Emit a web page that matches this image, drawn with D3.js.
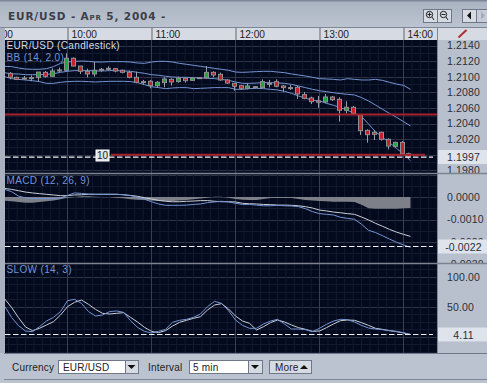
<!DOCTYPE html>
<html>
<head>
<meta charset="utf-8">
<title>EUR/USD</title>
<script src="https://cdn.jsdelivr.net/npm/d3@7"></script>
<style>
html, body { margin: 0; padding: 0; background: #b4bcc9; overflow: hidden; }
svg { display: block; }
text { font-family: "Liberation Sans", Arial, sans-serif; }
</style>
</head>
<body>
<div id="chart"></div>
<script>
// values. candles start 9:20, lines start 9:15, 5 min apart
var candleOpen = [1.21043,1.20992,1.20983,1.20988,1.20988,1.21056,1.21005,1.21086,1.21082,1.21236,
  1.21137,1.21069,1.21035,1.21095,1.21107,1.21103,1.21082,1.21056,1.20992,1.20937,
  1.20941,1.20885,1.20924,1.20966,1.20937,1.20979,1.20953,1.20988,1.20988,1.21056,
  1.21030,1.20958,1.20915,1.20885,1.20851,1.20872,1.20860,1.20915,1.20937,1.20881,
  1.20860,1.20864,1.20770,1.20727,1.20689,1.20676,1.20740,1.20710,1.20569,1.20608,
  1.20509,1.20312,1.20287,1.20287,1.20197,1.20107,1.20158,1.20013];
var candleClose = [1.20992,1.20966,1.20971,1.20975,1.21060,1.21005,1.21073,1.21078,1.21236,1.21137,
  1.21069,1.21035,1.21082,1.21086,1.21099,1.21073,1.21056,1.20992,1.20928,1.20928,
  1.20885,1.20928,1.20971,1.20932,1.20983,1.20949,1.20983,1.20979,1.21056,1.21022,
  1.20958,1.20919,1.20877,1.20851,1.20881,1.20860,1.20937,1.20915,1.20877,1.20860,
  1.20860,1.20779,1.20723,1.20680,1.20672,1.20740,1.20706,1.20569,1.20608,1.20530,
  1.20308,1.20257,1.20261,1.20197,1.20111,1.20158,1.20013,1.19970];
var candleHigh = [1.21060,1.21000,1.21009,1.21017,1.21060,1.21073,1.21107,1.21116,1.21300,1.21248,
  1.21137,1.21103,1.21189,1.21112,1.21133,1.21112,1.21091,1.21078,1.21065,1.20958,
  1.20958,1.20945,1.20992,1.20979,1.21001,1.20988,1.20992,1.20996,1.21137,1.21069,
  1.21052,1.20966,1.20915,1.20894,1.20915,1.20881,1.20966,1.20958,1.20966,1.20894,
  1.20894,1.20881,1.20804,1.20744,1.20753,1.20779,1.20753,1.20736,1.20685,1.20625,
  1.20509,1.20325,1.20317,1.20295,1.20210,1.20167,1.20175,1.20026];
var candleLow = [1.20966,1.20958,1.20958,1.20941,1.20937,1.20988,1.21001,1.21060,1.21078,1.21129,
  1.21035,1.20992,1.21001,1.21065,1.21078,1.21056,1.21043,1.20979,1.20915,1.20898,
  1.20851,1.20855,1.20864,1.20885,1.20924,1.20924,1.20945,1.20971,1.20975,1.20992,
  1.20949,1.20907,1.20821,1.20830,1.20838,1.20851,1.20851,1.20864,1.20864,1.20808,
  1.20830,1.20715,1.20711,1.20650,1.20603,1.20659,1.20689,1.20424,1.20530,1.20509,
  1.20253,1.20154,1.20188,1.20180,1.20068,1.20094,1.19996,1.19944];

var bbUpper = [1.21133,1.21129,1.21112,1.21099,1.21095,1.21095,1.21103,1.21129,1.21171,1.21188,
  1.21197,1.21201,1.21197,1.21188,1.21188,1.21193,1.21193,1.21193,1.21188,1.21176,
  1.21171,1.21188,1.21197,1.21197,1.21188,1.21171,1.21159,1.21146,1.21133,1.21120,
  1.21107,1.21095,1.21082,1.21060,1.21056,1.21060,1.21065,1.21069,1.21069,1.21060,
  1.21052,1.21035,1.21022,1.21009,1.20992,1.20975,1.20971,1.20966,1.20958,1.20975,
  1.20966,1.20958,1.20958,1.20966,1.20953,1.20928,1.20906,1.20889,1.20838];
var bbMid = [1.21052,1.21035,1.21035,1.21026,1.21026,1.21026,1.21030,1.21039,1.21056,1.21069,
  1.21078,1.21078,1.21078,1.21073,1.21073,1.21078,1.21078,1.21073,1.21069,1.21056,
  1.21043,1.21026,1.21018,1.21005,1.20996,1.20992,1.20992,1.20988,1.20983,1.20979,
  1.20975,1.20966,1.20953,1.20932,1.20915,1.20915,1.20919,1.20924,1.20924,1.20919,
  1.20915,1.20902,1.20881,1.20860,1.20838,1.20821,1.20808,1.20795,1.20783,1.20774,
  1.20766,1.20732,1.20689,1.20637,1.20582,1.20530,1.20479,1.20424,1.20368];
var bbLower = [1.21001,1.20975,1.20966,1.20958,1.20949,1.20937,1.20915,1.20915,1.20928,1.20937,
  1.20941,1.20941,1.20937,1.20932,1.20937,1.20941,1.20941,1.20941,1.20937,1.20924,
  1.20898,1.20872,1.20860,1.20847,1.20855,1.20860,1.20860,1.20847,1.20851,1.20855,
  1.20860,1.20860,1.20860,1.20838,1.20838,1.20847,1.20851,1.20847,1.20838,1.20830,
  1.20812,1.20787,1.20753,1.20723,1.20701,1.20689,1.20659,1.20633,1.20603,1.20569,
  1.20530,1.20488,1.20394,1.20296,1.20223,1.20154,1.20081,1.20009,1.19923];

var macdLine = [0.00034,0.00024,0.00004,-0.00004,-0.00006,-0.00007,-0.00007,-0.00007,-0.00004,0.00007,
  0.00018,0.00016,0.00013,0.00012,0.00012,0.00012,0.00012,0.00010,0.00006,-0.00001,
  -0.00010,-0.00021,-0.00031,-0.00037,-0.00037,-0.00037,-0.00036,-0.00033,-0.00031,-0.00025,
  -0.00022,-0.00019,-0.00022,-0.00028,-0.00033,-0.00033,-0.00036,-0.00039,-0.00039,-0.00037,
  -0.00039,-0.00040,-0.00043,-0.00052,-0.00065,-0.00074,-0.00077,-0.00080,-0.00090,-0.00095,
  -0.00099,-0.00121,-0.00148,-0.00158,-0.00172,-0.00187,-0.00201,-0.00213,-0.00224];
var macdSignal = [0.00038,0.00034,0.00028,0.00022,0.00018,0.00015,0.00012,0.00009,0.00006,0.00006,
  0.00009,0.00010,0.00012,0.00012,0.00012,0.00012,0.00012,0.00010,0.00007,0.00003,
  -0.00003,-0.00009,-0.00015,-0.00019,-0.00021,-0.00021,-0.00019,-0.00018,-0.00016,-0.00016,
  -0.00019,-0.00021,-0.00021,-0.00022,-0.00028,-0.00030,-0.00031,-0.00033,-0.00034,-0.00036,
  -0.00036,-0.00037,-0.00039,-0.00043,-0.00049,-0.00058,-0.00062,-0.00067,-0.00070,-0.00074,
  -0.00077,-0.00089,-0.00102,-0.00117,-0.00130,-0.00144,-0.00156,-0.00166,-0.00175];
var macdHist = [-0.00016,-0.00019,-0.00022,-0.00025,-0.00025,-0.00022,-0.00019,-0.00016,-0.00010,-0.00003,
  0,0.00003,0.00003,0.00001,0,0,-0.00003,-0.00006,-0.00010,-0.00012,
  -0.00013,-0.00016,-0.00018,-0.00018,-0.00018,-0.00016,-0.00013,-0.00010,-0.00007,-0.00003,
  0.00001,0.00001,-0.00003,-0.00009,-0.00012,-0.00013,-0.00013,-0.00009,-0.00004,-0.00004,
  -0.00004,-0.00004,-0.00009,-0.00013,-0.00016,-0.00018,-0.00019,-0.00021,-0.00021,-0.00021,
  -0.00022,-0.00034,-0.00050,-0.00052,-0.00052,-0.00052,-0.00052,-0.00050,-0.00049];

var slowK = [51.5,32.6,18.8,9.9,8.8,17.1,26.5,32.6,42.1,60.3,
  62.6,55.9,42.1,34.8,36.5,42.1,43.2,41.0,27.1,16.0,
  9.4,6.6,9.4,12.7,24.3,27.7,29.3,32.6,38.2,50.4,
  59.2,55.9,43.7,28.2,19.3,14.4,14.4,21.6,26.5,29.3,
  21.6,13.2,13.2,12.1,8.8,14.4,21.0,26.5,29.3,28.8,
  24.9,19.3,14.9,13.2,12.1,10.5,9.4,7.2,4.11];
var slowD = [63.7,49.3,32.1,16.6,10.5,14.4,19.9,25.4,36.5,50.4,
  57.6,61.4,54.2,45.9,39.3,38.2,39.3,40.4,32.6,24.9,
  16.0,9.4,7.2,10.5,18.2,24.3,27.7,31.0,33.7,44.8,
  53.1,55.4,46.5,34.8,26.5,22.7,11.6,17.1,23.8,28.2,
  24.9,19.9,15.5,12.7,9.4,9.9,15.5,21.6,27.1,28.2,
  27.7,23.8,19.3,14.4,12.7,10.5,8.8,6.6,4.11];

var priceTicks = [1.2140,1.2120,1.2100,1.2080,1.2060,1.2040,1.2020,1.1980];
var macdTicks = [0,-0.0010,-0.0020,-0.0030];
var slowTicks = [100,50];
var lastPrice = 1.1997, lastMacd = -0.0022, lastSlow = 4.11;
var redLevels = [1.20515, 1.2000];

var width = 487, height = 383;
var plotL = 5, plotR = 437;
var blue = "#7494d4", white = "#c9ced6", gridMinor = "#111a2e", gridMajor = "#2c3446";

var start = new Date(2004, 3, 5, 9, 20);
function tAt(i){ return d3.timeMinute.offset(start, i * 5); }
var lineT = function(d, i){ return tAt(i - 1); };
function hour(h){ return new Date(2004, 3, 5, h, 0); }

var x = d3.scaleTime().domain([hour(10), hour(14)]).range([67.5, 403.5]);
var yPrice = d3.scaleLinear().domain([1.2140, 1.1980]).range([45.5, 170.3]);
var yMacd = d3.scaleLinear().domain([0, -0.0022]).range([197, 246.5]);
var ySlow = d3.scaleLinear().domain([100, 4.11]).range([276.8, 334.5]);

var panels = [
  {id: "p1", top: 40, bottom: 173, y: yPrice, minor: 0.001, major: 2},
  {id: "p2", top: 173, bottom: 263, y: yMacd, minor: 0.0005, major: 2},
  {id: "p3", top: 263, bottom: 353, y: ySlow, minor: 12.5, major: 4}
];

var svg = d3.select("#chart").append("svg").attr("width", width).attr("height", height);
var defs = svg.append("defs");
var grad = defs.append("linearGradient").attr("id", "bgGrad").attr("x1", 0).attr("x2", 0).attr("y1", 0).attr("y2", 1);
grad.append("stop").attr("offset", "0%").attr("stop-color", "#a9b2c0");
grad.append("stop").attr("offset", "100%").attr("stop-color", "#bcc4d0");

svg.append("rect").attr("width", width).attr("height", height).attr("fill", "#b9c0cd");
svg.append("rect").attr("width", width).attr("height", 28).attr("fill", "url(#bgGrad)");
svg.append("rect").attr("width", width).attr("height", 1.5).attr("fill", "#7d8696");

// title
svg.append("text").attr("x", 8).attr("y", 20)
  .style("font-family", "'DejaVu Sans'").style("font-size", "10.5px").style("font-weight", "bold")
  .style("font-variant", "small-caps").style("letter-spacing", "0.85px").attr("fill", "#3a3f4a")
  .text("EUR/USD - Apr 5, 2004 -");

// time strip
svg.append("rect").attr("x", plotL).attr("y", 28).attr("width", width - plotL).attr("height", 12).attr("fill", "#d6dae3");
svg.append("rect").attr("x", 0).attr("y", 27).attr("width", width).attr("height", 1).attr("fill", "#7d8696");

panels.forEach(function(p){
  defs.append("clipPath").attr("id", p.id).append("rect")
    .attr("x", plotL).attr("y", p.top).attr("width", plotR - plotL).attr("height", p.bottom - p.top);
  defs.append("clipPath").attr("id", p.id + "a").append("rect")
    .attr("x", plotR).attr("y", p.top).attr("width", width - plotR).attr("height", p.bottom - p.top);
});
defs.append("clipPath").attr("id", "stripClip").append("rect")
  .attr("x", plotL).attr("y", 28).attr("width", plotR - plotL).attr("height", 12);

var timeAxis = d3.axisTop(x).tickValues([hour(9), hour(10), hour(11), hour(12), hour(13), hour(14)])
  .tickFormat(d3.timeFormat("%H:%M")).tickSize(0);
var stripG = svg.append("g").attr("clip-path", "url(#stripClip)").append("g")
  .attr("transform", "translate(0,40)").call(timeAxis);
stripG.select(".domain").remove();
stripG.selectAll("text").attr("x", 3.5).attr("y", -2.5).attr("text-anchor", "start").attr("fill", "#222")
  .style("font-size", "10.2px");
stripG.selectAll(".tick").append("line").attr("y1", -12).attr("y2", 0).attr("stroke", "#666");
svg.append("line").attr("x1", plotR + 0.5).attr("x2", plotR + 0.5).attr("y1", 28).attr("y2", 353).attr("stroke", "#7d8696");

// pencil icon
svg.append("line").attr("x1", 458.5).attr("y1", 37.5).attr("x2", 466.5).attr("y2", 30)
  .attr("stroke", "#b03030").attr("stroke-width", 2);

// plot background and grid
panels.forEach(function(p){
  svg.append("rect").attr("x", plotL).attr("y", p.top).attr("width", plotR - plotL)
    .attr("height", p.bottom - p.top).attr("fill", "#040a1e");
  var g = svg.append("g").attr("clip-path", "url(#" + p.id + ")");
  var ks = d3.range(Math.ceil(p.y.invert(p.bottom) / p.minor), Math.floor(p.y.invert(p.top) / p.minor) + 1);
  g.selectAll(".h").data(ks).enter().append("line")
    .attr("x1", plotL).attr("x2", plotR)
    .attr("y1", function(k){ return Math.round(p.y(k * p.minor)) + 0.5; })
    .attr("y2", function(k){ return Math.round(p.y(k * p.minor)) + 0.5; })
    .attr("stroke", function(k){ return k % p.major == 0 ? gridMajor : gridMinor; });
  g.selectAll(".v").data(d3.timeMinute.range(hour(9), new Date(2004, 3, 5, 14, 30), 6))
    .enter().append("line")
    .attr("x1", function(d){ return x(d); }).attr("x2", function(d){ return x(d); })
    .attr("y1", p.top).attr("y2", p.bottom)
    .attr("stroke", function(d){ return d.getMinutes() == 0 ? "#363f52" : gridMinor; });
});

// price panel
var priceG = svg.append("g").attr("clip-path", "url(#p1)");
var lineP = d3.line().x(function(d, i){ return x(lineT(d, i)); }).y(function(d){ return yPrice(d); });
[bbUpper, bbMid, bbLower].forEach(function(s){
  priceG.append("path").datum(s).attr("d", lineP).attr("fill", "none").attr("stroke", blue);
});
var candles = candleOpen.map(function(o, i){
  return {t: tAt(i), o: o, c: candleClose[i], h: candleHigh[i], l: candleLow[i]};
});
function candleX(d){ return Math.round(x(d.t) - 2) + 0.5; }
var cg = priceG.selectAll(".c").data(candles).enter().append("g");
cg.append("line").attr("x1", candleX).attr("x2", candleX)
  .attr("y1", function(d){ return yPrice(d.h); }).attr("y2", function(d){ return yPrice(d.l); })
  .attr("stroke", "#9a9fa8");
cg.append("rect")
  .attr("x", function(d){ return candleX(d) - 2; }).attr("width", 4)
  .attr("y", function(d){ return yPrice(Math.max(d.o, d.c)); })
  .attr("height", function(d){ return Math.max(1, Math.abs(yPrice(d.o) - yPrice(d.c))); })
  .attr("fill", function(d){ return d.c > d.o ? "#1ea83a" : (d.c < d.o ? "#c4222a" : "#9a9fa8"); })
  .attr("stroke", "#8f8f96").attr("stroke-width", 1);
redLevels.forEach(function(v, i){
  priceG.append("line").attr("x1", i == 0 ? plotL : 111).attr("x2", i == 0 ? plotR : 425)
    .attr("y1", yPrice(v)).attr("y2", yPrice(v)).attr("stroke", "#a8202c").attr("stroke-width", 2);
});

// macd panel
var macdG = svg.append("g").attr("clip-path", "url(#p2)");
var histArea = d3.area().x(function(d, i){ return x(lineT(d, i)); }).y0(yMacd(0)).y1(function(d){ return yMacd(d); });
macdG.append("path").datum(macdHist).attr("d", histArea).attr("fill", "#7d8088");
var lineM = d3.line().x(function(d, i){ return x(lineT(d, i)); }).y(function(d){ return yMacd(d); });
macdG.append("path").datum(macdSignal).attr("d", lineM).attr("fill", "none").attr("stroke", white);
macdG.append("path").datum(macdLine).attr("d", lineM).attr("fill", "none").attr("stroke", blue);

// slow stochastic panel
var slowG = svg.append("g").attr("clip-path", "url(#p3)");
var lineS = d3.line().x(function(d, i){ return x(lineT(d, i)); }).y(function(d){ return ySlow(d); });
slowG.append("path").datum(slowD).attr("d", lineS).attr("fill", "none").attr("stroke", white);
slowG.append("path").datum(slowK).attr("d", lineS).attr("fill", "none").attr("stroke", blue);

// dashed last value lines
[yPrice(lastPrice), yMacd(lastMacd), ySlow(lastSlow)].forEach(function(v){
  svg.append("line").attr("x1", plotL).attr("x2", 433).attr("y1", v).attr("y2", v)
    .attr("stroke", "#eef1f6").attr("stroke-width", 1.2).attr("stroke-dasharray", "5.5,2.5");
});

// right axes
function axisFor(p, ticks, fmt){
  var g = svg.append("g").attr("clip-path", "url(#" + p.id + "a)").append("g")
    .attr("transform", "translate(" + (plotR + 10) + ",0)")
    .call(d3.axisRight(p.y).tickValues(ticks).tickFormat(fmt).tickSize(0));
  g.select(".domain").remove();
  g.selectAll("text").attr("x", 0).attr("fill", "#2b2f38").style("font-size", "10.5px").style("letter-spacing", "0.15px");
}
axisFor(panels[0], priceTicks, d3.format(".4f"));
axisFor(panels[1], macdTicks, function(d){ return d3.format(".4f")(d).replace("\u2212", "-"); });
axisFor(panels[2], slowTicks, d3.format(".2f"));

function valueBox(yv, txt){
  svg.append("rect").attr("x", plotR + 1).attr("y", yv - 7).attr("width", width - plotR - 1).attr("height", 14)
    .attr("fill", "#dfe3eb");
  svg.append("text").attr("x", 463.5).attr("y", yv + 4).attr("text-anchor", "middle")
    .attr("fill", "#2b2f38").style("font-size", "10.5px").style("letter-spacing", "0.15px").text(txt);
}
valueBox(yPrice(lastPrice), d3.format(".4f")(lastPrice));
valueBox(yMacd(lastMacd), d3.format(".4f")(lastMacd).replace("\u2212", "-"));
valueBox(ySlow(lastSlow), d3.format(".2f")(lastSlow));

// panel separators
[173, 263].forEach(function(v){
  svg.append("line").attr("x1", plotL).attr("x2", width).attr("y1", v + 0.5).attr("y2", v + 0.5).attr("stroke", "#7c8290").attr("stroke-width", 1.3);
});

// labels inside the plots
svg.append("text").attr("x", 6.5).attr("y", 49).attr("fill", "#d5d9e0").style("font-size", "10px").style("letter-spacing", "0.35px").text("EUR/USD (Candlestick)");
svg.append("text").attr("x", 6.5).attr("y", 61).attr("fill", blue).style("font-size", "10px").style("letter-spacing", "0.35px").text("BB (14, 2.0)");
svg.append("text").attr("x", 6.5).attr("y", 184).attr("fill", blue).style("font-size", "10px").style("letter-spacing", "0.35px").text("MACD (12, 26, 9)");
svg.append("text").attr("x", 6.5).attr("y", 273).attr("fill", blue).style("font-size", "10px").style("letter-spacing", "0.35px").text("SLOW (14, 3)");

// "10" marker
svg.append("rect").attr("x", 96).attr("y", 150).attr("width", 13).attr("height", 11).attr("fill", "#dfe3eb").attr("stroke", "#fff");
svg.append("text").attr("x", 102.5).attr("y", 159).attr("text-anchor", "middle").attr("fill", "#222").style("font-size", "10px").text("10");

// left edge and bottom bar
svg.append("rect").attr("x", 0).attr("y", 28).attr("width", plotL).attr("height", 325).attr("fill", "#aab2c0");
svg.append("rect").attr("x", 0).attr("y", 353).attr("width", width).attr("height", 30).attr("fill", "#bcc3d0");
svg.append("rect").attr("x", 4).attr("y", 353).attr("width", width).attr("height", 1).attr("fill", "#6f7788");
svg.append("rect").attr("x", 4).attr("y", 379).attr("width", width).attr("height", 1).attr("fill", "#7d8696");

function ctrlBox(bx, by, bw, bh, fill){
  svg.append("rect").attr("x", bx + 0.5).attr("y", by + 0.5).attr("width", bw).attr("height", bh)
    .attr("fill", fill).attr("stroke", "#6f7788");
}
function ctrlText(tx, txt, col){
  svg.append("text").attr("x", tx).attr("y", 370.5).attr("fill", col || "#222")
    .style("font-size", "10px").style("letter-spacing", "0.2px").text(txt);
}
function tri(cx, cy, up){
  var s = up ? -1 : 1;
  svg.append("path").attr("d", "M" + (cx - 4) + "," + (cy - 2 * s) + "L" + (cx + 4) + "," + (cy - 2 * s) + "L" + cx + "," + (cy + 2 * s) + "Z").attr("fill", "#111");
}
ctrlText(12, "Currency");
ctrlBox(58, 360, 67, 13, "#fff");
ctrlText(63, "EUR/USD");
ctrlBox(125, 360, 13, 13, "#d6dae3");
tri(131.5, 367, false);
ctrlText(148, "Interval");
ctrlBox(189, 360, 59, 13, "#fff");
ctrlText(193, "5 min");
ctrlBox(248, 360, 14, 13, "#d6dae3");
tri(255, 367, false);
ctrlBox(269, 360, 42, 13, "#d6dae3");
ctrlText(275, "More");
tri(304, 367, true);

// zoom and scroll buttons
ctrlBox(423, 9, 14, 13, "#d6dae3");
ctrlBox(437, 9, 14, 13, "#d6dae3");
ctrlBox(462, 9, 14, 13, "#d6dae3");
ctrlBox(476, 9, 14, 13, "#c6ccd6");
svg.append("circle").attr("cx", 429.5).attr("cy", 14.5).attr("r", 3.2).attr("fill", "none").attr("stroke", "#222");
svg.append("path").attr("d", "M427.5,14.5H431.5M429.5,12.5V16.5M432,17L434,20").attr("stroke", "#222").attr("fill", "none");
svg.append("circle").attr("cx", 443.5).attr("cy", 14.5).attr("r", 3.2).attr("fill", "none").attr("stroke", "#222");
svg.append("path").attr("d", "M441.5,14.5H445.5M446,17L448,20").attr("stroke", "#222").attr("fill", "none");
svg.append("path").attr("d", "M467,15.5L471,11.5V19.5Z").attr("fill", "#111");
svg.append("path").attr("d", "M481,11.5L485,15.5L481,19.5Z").attr("fill", "#a4abb8");
</script>
</body>
</html>
